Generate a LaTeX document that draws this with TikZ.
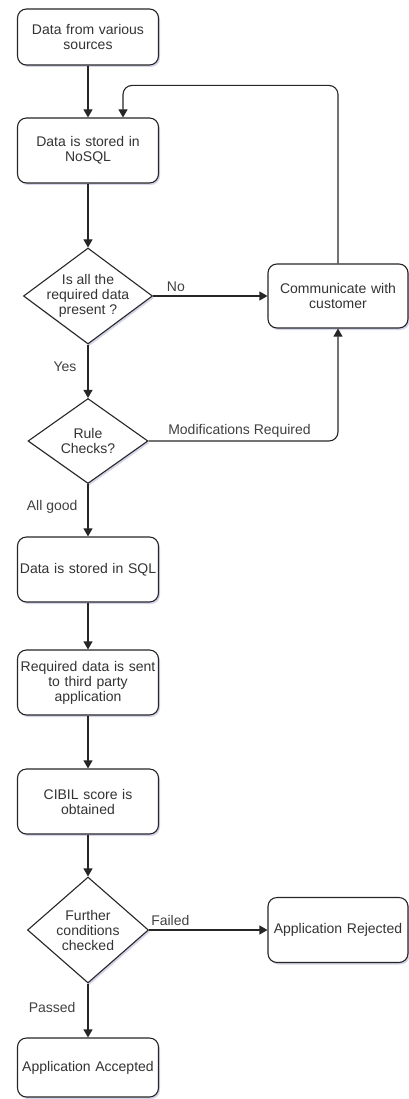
\documentclass[tikz,border=0pt]{standalone}
\usepackage{fontspec}
\setmainfont{Liberation Sans}
\usetikzlibrary{shapes.geometric,arrows.meta,shadows}

\begin{document}
\begin{tikzpicture}[x=1pt, y=-1pt,
    font=\fontsize{14}{15}\selectfont,
    boxshadow/.style={drop shadow={shadow xshift=1.5pt, shadow yshift=-2pt, fill=blue!35!gray, opacity=0.25}},
    box/.style={draw=black!85, line width=1.1pt, fill=white, rounded corners=9pt, text=black!80,
        minimum width=141pt, minimum height=65pt, text width=140pt, align=center, inner sep=0pt, boxshadow},
    decision/.style={diamond, draw=black!85, line width=1.1pt, fill=white, text=black!80,
        aspect=1.35, inner sep=-4pt, align=center, boxshadow},
    arr/.style={draw=black!85, line width=1.1pt, -{Triangle[length=8pt,width=9pt]}},
    lbl/.style={text=black!75, inner sep=1pt}]

    % Marco
    \useasboundingbox (0,0) rectangle (409,1099);

    % Columna principal
    \node[box, minimum height=56pt] (src) at (88,37) {Data from various\\sources};
    \node[box] (nosql) at (88,150.5) {Data is stored in\\NoSQL};
    \node[decision, minimum width=129pt, minimum height=96pt] (check) at (88,296) {Is all the\\required data\\present ?};
    \node[decision, minimum width=120pt, minimum height=85pt] (rules) at (88,441) {Rule\\Checks?};
    \node[box] (sql) at (88,569.5) {Data is stored in SQL};
    \node[box] (third) at (88,682.5) {Required data is sent\\to third party\\application};
    \node[box] (cibil) at (88,801.5) {CIBIL score is\\obtained};
    \node[decision, minimum width=121pt, minimum height=106pt] (further) at (88,930) {Further\\conditions\\checked};
    \node[box, minimum height=59pt] (accept) at (88,1067.5) {Application Accepted};

    % Columna derecha
    \node[box, minimum width=140pt, minimum height=64pt] (comm) at (338,296) {Communicate with\\customer};
    \node[box, minimum width=140pt] (reject) at (338,930) {Application Rejected};

    % Flechas
    \draw[arr] (src) -- (nosql);
    \draw[arr] (nosql) -- (check);
    \draw[arr] (check) -- node[lbl, above=3pt, pos=0.2] {No} (comm);
    \draw[arr] (check) -- node[lbl, left=10pt, pos=0.42] {Yes} (rules);
    \draw[arr, rounded corners=9pt] (rules.east) -| node[lbl, above=2pt, pos=0.24] {Modifications Required} (comm.south);
    \draw[arr, rounded corners=9pt] (comm.north) |- ([xshift=35pt, yshift=32pt]nosql.north) -- ([xshift=35pt]nosql.north);
    \draw[arr] (rules) -- node[lbl, left=9pt, pos=0.43] {All good} (sql);
    \draw[arr] (sql) -- (third);
    \draw[arr] (third) -- (cibil);
    \draw[arr] (cibil) -- (further);
    \draw[arr] (further) -- node[lbl, above=3pt, pos=0.18] {Failed} (reject);
    \draw[arr] (further) -- node[lbl, left=11pt, pos=0.44] {Passed} (accept);
\end{tikzpicture}
\end{document}
